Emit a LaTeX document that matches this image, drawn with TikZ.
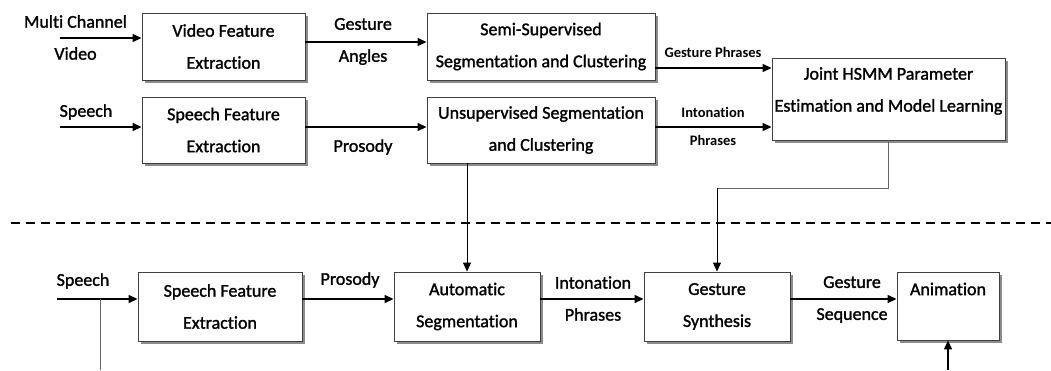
\documentclass[tikz,border=0pt]{standalone}
\usepackage{fontspec}
\setmainfont{Carlito}[Ligatures=NoCommon, FakeBold=1.4]
\newfontfamily\labelbold{Carlito Bold}[Ligatures=NoCommon]
\usetikzlibrary{arrows.meta,shadows}
\begin{document}
\begin{tikzpicture}[x=1pt,y=-1pt,
  box/.style={draw=black!75, line width=0.9pt, fill=white, inner sep=0pt, align=center,
    font=\fontsize{18}{32}\selectfont,
    drop shadow={shadow xshift=3pt, shadow yshift=-3pt, fill=black!45, opacity=1}},
  lbl/.style={align=center, font=\fontsize{18}{32}\selectfont, inner sep=0pt},
  slbl/.style={align=center, font=\labelbold\fontsize{14.5}{28}\selectfont, inner sep=0pt},
  tip/.style={-{Triangle[length=9pt,width=8pt]}},
  arr/.style={line width=1.3pt, tip},
  feed/.style={line width=0.8pt, draw=black!60},
  divider/.style={line width=2pt, dash pattern=on 9pt off 6pt},
]
\useasboundingbox (0,0) rectangle (1051,370);

% training stage
\node[box, minimum width=163pt, minimum height=67pt] (vfe) at (223.5,46.5) {Video Feature\\Extraction};
\node[box, minimum width=163pt, minimum height=66pt] (sfe) at (223.5,130) {Speech Feature\\Extraction};
\node[box, minimum width=228pt, minimum height=67pt] (semi) at (541,46.5) {Semi-Supervised\\Segmentation and Clustering};
\node[box, minimum width=228pt, minimum height=66pt] (unsup) at (541,130) {Unsupervised Segmentation\\and Clustering};
\node[box, minimum width=233pt, minimum height=82pt] (joint) at (888.5,99) {};
\node[lbl] (jointtxt) at (888.5,91) {Joint HSMM Parameter\\Estimation and Model Learning};

% synthesis stage
\node[box, minimum width=164pt, minimum height=69pt] (sfe2) at (220,306.5) {Speech Feature\\Extraction};
\node[box, minimum width=146pt, minimum height=69pt] (auto) at (467,306.5) {Automatic\\Segmentation};
\node[box, minimum width=146pt, minimum height=69pt] (synth) at (717,306.5) {Gesture\\Synthesis};
\node[box, minimum width=102pt, minimum height=68pt] (anim) at (948,306) {};
\node[lbl] (animtxt) at (948,289) {Animation};

% labels
\node[lbl] (mcv) at (75.5,37.5) {Multi Channel\\Video};
\node[lbl] (sp1) at (86,112) {Speech};
\node[lbl] (ga) at (363,41.5) {Gesture\\Angles};
\node[lbl] (pr1) at (363,147) {Prosody};
\node[slbl] (gph) at (713,52) {Gesture Phrases};
\node[slbl] (iph) at (713,126) {Intonation\\Phrases};
\node[lbl] (sp2) at (83,281) {Speech};
\node[lbl] (pr2) at (350,280) {Prosody};
\node[lbl] (iph2) at (593,298.5) {Intonation\\Phrases};
\node[lbl] (gs) at (852,299.5) {Gesture\\Sequence};

% training connectors
\coordinate (vin) at (60,38);
\draw[arr] (vin) -- (vin -| vfe.west);
\draw[arr] ([yshift=4.5pt]vfe.east) -- ([yshift=4.5pt]semi.west);
\coordinate (sin) at (60,127);
\draw[arr] (sin) -- (sin -| sfe.west);
\draw[arr] ([yshift=3pt]sfe.east) -- ([yshift=3pt]unsup.west);
\coordinate (gp) at ([yshift=31pt]joint.west);
\draw[arr] (gp -| semi.east) -- (gp);
\coordinate (ip) at ([yshift=3pt]unsup.east);
\draw[arr] (ip) -- (ip -| joint.west);

% links between the stages
\coordinate (fb) at ([yshift=-48pt]joint.south);
\draw[feed] (joint.south) -- (fb) -- (fb -| synth.north);
\draw[line width=0.9pt, tip] (fb -| synth.north) -- (synth.north);
\draw[line width=0.9pt, tip] (auto.north |- unsup.south) -- (auto.north);

% synthesis connectors
\coordinate (s2) at (57,299);
\draw[arr] (s2) -- (s2 -| sfe2.west);
\draw[arr] (s2 -| sfe2.east) -- (s2 -| auto.west);
\draw[arr] (s2 -| auto.east) -- (s2 -| synth.west);
\draw[arr] (s2 -| synth.east) -- (s2 -| anim.west);
\coordinate (sb) at (100,370);
\draw[feed] (sb |- s2) -- (sb);
\coordinate (ab) at (948,370);
\draw[arr] (ab) -- (anim.south);

% divider
\coordinate (d1) at (11,223);
\coordinate (d2) at (1051,223);
\draw[divider] (d1) -- (d2);
\end{tikzpicture}
\end{document}
